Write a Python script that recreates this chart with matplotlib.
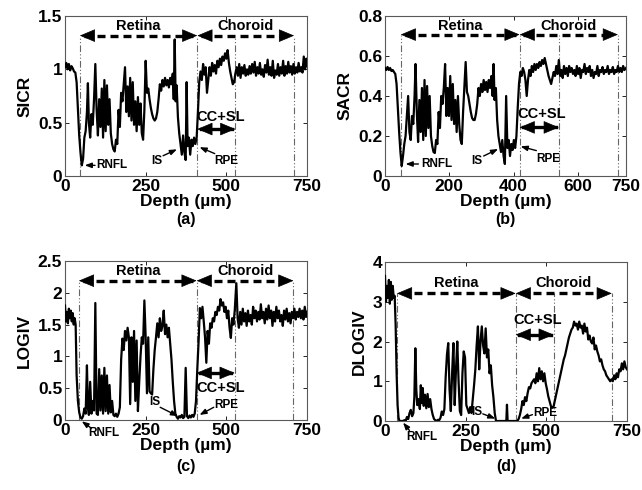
import matplotlib
matplotlib.use('Agg')
import matplotlib.pyplot as plt

plt.rcParams['font.family'] = ['Liberation Sans', 'DejaVu Sans']
plt.rcParams['font.weight'] = 'bold'

# ---------------- data ----------------
a_depth = [0,4,8,12,16,20,24,28,32,36,40,44,48,52,56,60,64,68,71,74,78,82,86,90,94,98,102,106,110,114,118,122,126,130,134,138,142,146,150,154,158,162,166,170,174,178,182,186,190,194,198,202,206,210,214,218,222,226,230,234,238,242,246,250,254,258,262,266,270,274,278,282,286,290,294,298,302,306,310,314,318,322,326,330,334,337,340,343,346,350,354,358,362,366,370,374,377,380,384,388,392,396,400,404,408,412,416,420,424,428,432,436,440,444,448,452,456,460,464,468,472,476,480,484,488,492,496,500,504,508,512,516,520,524,528,532,536,540,544,548,552,556,560,564,568,572,576,580,584,588,592,596,600,604,608,612,616,620,624,628,632,636,640,644,648,652,656,660,664,668,672,676,680,684,688,692,696,700,704,708,712,716,720,724,728,732,736,740,744,748,750]
a_sicr = [1.02,1.06,1.00,1.05,0.99,1.03,1.01,0.98,0.97,0.88,0.62,0.38,0.22,0.10,0.16,0.36,0.42,0.60,0.87,0.50,0.36,0.58,0.48,0.72,1.05,0.62,0.38,0.72,0.46,0.82,0.36,0.90,0.42,0.85,0.48,0.72,0.40,0.30,0.25,0.23,0.34,0.30,0.62,0.46,0.78,0.70,0.86,1.02,0.60,0.84,0.56,0.92,0.52,0.88,0.48,0.70,0.42,0.74,0.48,0.68,0.40,0.34,0.62,1.08,0.78,0.82,0.72,0.64,0.58,0.54,0.52,0.54,0.60,0.72,0.86,0.80,0.90,0.84,0.92,0.85,0.90,0.83,0.92,0.86,0.96,0.72,1.28,0.70,0.85,0.55,0.40,0.30,0.20,0.38,0.22,0.15,0.88,0.28,0.36,0.20,0.34,0.28,0.36,0.30,0.36,0.60,0.88,0.98,0.90,1.05,0.95,1.02,0.78,0.90,1.02,0.94,1.06,0.98,1.04,0.96,1.08,1.02,1.10,1.04,1.12,1.08,1.15,1.10,1.18,1.06,0.98,0.92,0.86,0.88,0.96,1.02,0.94,1.05,0.92,1.02,0.96,1.04,0.94,1.00,0.95,1.03,0.96,1.05,0.97,1.07,0.94,1.02,0.96,1.06,0.95,1.00,0.93,1.04,0.97,1.09,0.95,1.02,0.94,1.08,0.92,0.99,0.95,1.05,0.94,1.02,0.96,1.08,0.94,1.03,0.96,1.07,0.97,1.03,0.95,1.05,0.96,1.02,0.97,1.06,0.98,1.02,0.97,1.12,1.00,1.10,1.03]

b_depth = [0,4,8,12,16,20,24,28,32,36,40,44,48,52,56,60,64,68,72,76,80,84,88,92,95,99,103,107,111,115,119,123,127,131,135,139,143,147,151,155,159,163,167,171,175,179,183,187,191,195,199,203,207,211,215,219,223,227,231,235,239,243,247,251,255,259,263,267,271,275,279,283,287,291,295,299,303,307,311,315,319,323,327,331,335,338,341,345,349,353,357,361,365,369,373,377,381,385,389,393,397,401,405,409,413,417,421,425,429,433,437,441,445,449,453,457,461,465,469,473,477,481,485,489,493,497,501,505,509,513,517,521,525,529,533,537,541,545,549,553,557,561,565,569,573,577,581,585,589,593,597,601,605,609,613,617,621,625,629,633,637,641,645,649,653,657,661,665,669,673,677,681,685,689,693,697,701,705,709,713,717,721,725,729,733,737,741,745,750]
b_sacr = [0.54,0.53,0.545,0.53,0.54,0.525,0.53,0.52,0.51,0.46,0.34,0.22,0.12,0.05,0.10,0.16,0.20,0.30,0.40,0.22,0.18,0.30,0.26,0.40,0.56,0.32,0.17,0.38,0.22,0.44,0.18,0.48,0.20,0.45,0.24,0.40,0.20,0.15,0.12,0.115,0.18,0.16,0.32,0.24,0.40,0.36,0.44,0.56,0.30,0.44,0.30,0.50,0.28,0.46,0.26,0.38,0.22,0.40,0.26,0.18,0.16,0.32,0.44,0.57,0.42,0.40,0.36,0.32,0.29,0.28,0.28,0.31,0.36,0.44,0.40,0.46,0.42,0.48,0.43,0.47,0.42,0.48,0.44,0.50,0.40,0.56,0.38,0.44,0.28,0.20,0.16,0.12,0.18,0.10,0.06,0.40,0.14,0.18,0.10,0.16,0.13,0.18,0.14,0.20,0.34,0.46,0.52,0.50,0.54,0.52,0.48,0.40,0.48,0.53,0.50,0.55,0.52,0.56,0.53,0.56,0.54,0.57,0.55,0.58,0.56,0.59,0.56,0.53,0.50,0.48,0.46,0.49,0.52,0.50,0.55,0.51,0.58,0.50,0.53,0.49,0.55,0.51,0.54,0.50,0.55,0.52,0.54,0.51,0.53,0.50,0.55,0.51,0.54,0.49,0.53,0.52,0.56,0.51,0.54,0.52,0.55,0.50,0.53,0.49,0.52,0.51,0.55,0.50,0.53,0.52,0.545,0.51,0.53,0.52,0.55,0.51,0.53,0.52,0.545,0.51,0.53,0.52,0.55,0.52,0.54,0.52,0.55,0.53,0.54]

c_depth = [0,3,6,9,12,15,18,21,24,27,30,33,36,40,44,48,52,56,60,64,68,71,74,78,82,86,90,94,98,102,106,110,114,118,122,126,130,134,138,142,146,150,154,158,162,166,170,174,178,182,186,190,194,198,202,206,210,214,218,222,226,230,234,238,242,246,250,254,258,262,266,270,274,278,282,286,290,294,298,302,306,310,314,318,322,326,330,334,338,342,346,350,354,358,362,366,370,374,378,382,386,390,394,398,402,406,410,414,418,422,426,430,434,438,442,446,450,454,458,462,466,470,474,478,482,486,490,494,498,502,506,510,514,518,522,526,531,535,539,543,547,551,555,559,563,567,571,575,579,583,587,591,595,599,603,607,611,615,619,623,627,631,635,639,643,647,651,655,659,663,667,671,675,679,683,687,691,695,699,703,707,711,715,719,723,727,731,735,739,743,747,750]
c_logiv = [1.80,1.55,1.70,1.52,1.75,1.60,1.72,1.55,1.68,1.50,1.60,1.50,0.70,0.30,0.12,0.04,0.02,0.06,0.18,0.10,0.86,0.20,0.08,0.60,0.10,0.30,0.15,1.84,0.10,0.08,0.80,0.15,0.70,0.10,0.82,0.14,0.70,0.10,0.55,0.12,0.30,0.08,0.06,0.10,0.05,0.10,0.20,0.95,1.28,1.10,1.40,1.25,1.45,1.30,0.25,1.30,0.60,1.40,0.30,1.25,0.14,0.60,1.00,1.30,1.20,1.88,1.30,0.42,1.30,0.45,0.42,0.40,0.80,1.10,1.30,1.52,1.30,1.60,1.40,1.48,1.72,1.35,1.50,1.30,1.45,1.20,0.95,0.60,0.30,0.10,0.05,0.02,0.06,0.04,0.08,0.03,0.05,0.82,0.06,0.03,0.07,0.04,0.08,0.05,0.10,0.30,0.80,1.23,1.76,1.60,1.78,1.55,1.30,0.90,1.40,1.20,1.52,1.45,1.60,1.55,1.70,1.65,1.78,1.72,1.90,1.80,1.85,1.70,1.78,1.60,1.72,1.45,1.29,1.60,1.50,1.72,2.15,1.60,1.45,1.70,1.50,1.75,1.55,1.68,1.48,1.72,1.55,1.65,1.50,1.78,1.60,1.72,1.55,1.70,1.58,1.82,1.60,1.70,1.52,1.75,1.58,1.80,1.60,1.72,1.48,1.70,1.55,1.78,1.60,1.72,1.55,1.65,1.48,1.72,1.58,1.75,1.55,1.68,1.52,1.70,1.60,1.75,1.58,1.70,1.62,1.75,1.60,1.72,1.58,1.78,1.62,1.70]

d_depth = [0,3,6,9,12,15,18,21,24,27,30,33,36,39,42,45,50,55,60,64,68,72,76,80,84,88,91,94,97,100,104,108,111,114,117,120,124,128,132,136,140,144,148,152,156,160,164,168,172,176,180,184,188,192,196,200,204,208,212,216,220,224,228,232,236,240,244,248,252,256,260,264,268,272,276,280,284,288,292,296,300,304,308,312,316,320,324,328,332,336,340,344,350,360,370,376,378,380,390,400,410,414,418,422,426,430,434,438,442,446,450,454,458,462,466,470,474,478,482,486,490,494,498,502,506,510,514,518,522,526,530,534,538,542,546,550,554,558,562,566,570,574,578,582,586,590,594,598,602,606,610,614,618,622,626,630,634,638,642,646,650,654,658,662,666,670,674,678,682,686,690,694,698,702,706,710,714,718,722,726,730,734,738,742,746,750]
d_dlogiv = [3.65,3.00,3.40,3.10,3.55,2.95,3.50,3.05,3.40,3.10,3.15,2.40,1.20,0.40,0.08,0.0,0.0,0.0,0.02,0.0,0.10,0.05,0.20,0.28,0.12,0.20,0.60,1.83,0.80,0.40,0.55,0.30,0.90,0.45,0.83,0.38,0.66,0.32,0.68,0.35,0.55,0.30,0.15,0.05,0.02,0.0,0.03,0.02,0.08,0.24,0.15,0.30,1.10,1.67,1.96,0.80,0.25,1.20,1.96,0.40,1.30,2.00,1.00,0.25,0.15,1.20,1.75,1.60,0.40,0.30,0.20,0.35,0.20,0.55,0.90,1.30,1.90,2.38,1.30,2.00,2.38,1.90,1.70,2.33,1.60,1.80,1.20,1.40,0.90,0.60,0.20,0.0,0.0,0.0,0.0,0.0,0.41,0.0,0.0,0.0,0.0,0.05,0.15,0.30,0.50,0.40,0.60,0.50,0.70,0.85,0.82,0.95,1.00,1.05,0.95,1.20,1.00,1.33,1.05,1.25,1.00,1.20,0.95,0.80,0.62,0.50,0.38,0.33,0.35,0.50,0.65,0.80,0.95,1.10,1.25,1.40,1.55,1.65,1.80,1.95,2.10,2.20,2.30,2.35,2.50,2.40,2.45,2.30,2.50,2.35,2.40,2.20,2.45,2.25,2.35,2.05,2.15,2.00,1.95,2.10,1.80,1.90,1.75,1.65,1.50,1.55,1.40,1.30,1.25,1.15,1.10,1.05,1.00,1.05,1.00,1.15,1.05,1.20,1.10,1.30,1.25,1.45,1.30,1.50,1.35,1.30]

# layer boundaries (um): RNFL start, RPE, CC+SL end, choroid end
a_bounds = [46, 410, 528, 710]
b_bounds = [49, 419, 541, 725]
c_bounds = [43, 408, 526, 708]
d_bounds = [37, 405, 523, 703]

ylabels = ['SICR', 'SACR', 'LOGIV', 'DLOGIV']
panel_letters = ['(a)', '(b)', '(c)', '(d)']
xtick_ab = [[0, 250, 500, 750], [0, 200, 400, 600, 750], [0, 250, 500, 750], [0, 250, 500, 750]]
ytick_vals = [[0, 0.5, 1, 1.5], [0, 0.2, 0.4, 0.6, 0.8], [0, 0.5, 1, 1.5, 2, 2.5], [0, 1, 2, 3, 4]]
ytick_txt = [['0', '0.5', '1', '1.5'], ['0', '0.2', '0.4', '0.6', '0.8'],
             ['0', '0.5', '1', '1.5', '2', '2.5'], ['0', '1', '2', '3', '4']]

# ---------------- layout / annotation placement ----------------
W, H = 642, 490
rects = [(65, 176, 242, 160), (385, 176, 241, 160), (65, 420, 242, 159), (385, 421, 242, 159)]

ann = [
    dict(arrow_y=1.316, text_y=1.41, cc_y=0.44, cc_ty=0.55, cc_tx=483,
         rnfl=dict(t=(97, 0.10), tail=(93, 0.10), tip=(61, 0.10), ha='left'),
         IS=dict(t=(283, 0.14), tail=(304, 0.19), tip=(347, 0.25)),
         RPE=dict(t=(500, 0.14), tail=(464, 0.21), tip=(417, 0.27))),
    dict(arrow_y=0.707, text_y=0.752, cc_y=0.243, cc_ty=0.31, cc_tx=489,
         rnfl=dict(t=(112, 0.06), tail=(104, 0.06), tip=(64, 0.06), ha='left'),
         IS=dict(t=(287, 0.077), tail=(307, 0.10), tip=(352, 0.135)),
         RPE=dict(t=(507, 0.085), tail=(471, 0.127), tip=(422, 0.148))),
    dict(arrow_y=2.19, text_y=2.34, cc_y=0.74, cc_ty=0.50, cc_tx=481,
         rnfl=dict(t=(119, -0.21), tail=(82, -0.13), tip=(52, -0.02), ha='center'),
         IS=dict(t=(277, 0.28), tail=(295, 0.20), tip=(350, 0.06)),
         RPE=dict(t=(500, 0.24), tail=(461, 0.20), tip=(417, 0.08))),
    dict(arrow_y=3.21, text_y=3.46, cc_y=2.17, cc_ty=2.54, cc_tx=474,
         rnfl=dict(t=(114, -0.39), tail=(76, -0.24), tip=(56, -0.04), ha='center'),
         IS=dict(t=(284, 0.23), tail=(303, 0.18), tip=(342, 0.06)),
         RPE=dict(t=(496, 0.20), tail=(457, 0.16), tip=(422, 0.06))),
]
ylims = [(0, 1.5), (0, 0.8), (0, 2.5), (0, 4)]
series = [(a_depth, a_sicr), (b_depth, b_sacr), (c_depth, c_logiv), (d_depth, d_dlogiv)]
bounds_all = [a_bounds, b_bounds, c_bounds, d_bounds]

fig = plt.figure(figsize=(W / 100, H / 100), dpi=100)

big_head = '-|>,head_length=0.5,head_width=0.21'
small_head = '-|>,head_length=0.45,head_width=0.17'

for i in range(4):
    l, b, w, h = rects[i]
    ax = fig.add_axes([l / W, 1 - b / H, w / W, h / H])
    x, y = series[i]
    ax.plot(x, y, color='black', lw=1.6, zorder=3)
    ax.set_xlim(0, 750)
    ax.set_ylim(*ylims[i])
    ax.set_xticks(xtick_ab[i])
    ax.set_xticklabels([str(t) for t in xtick_ab[i]])
    ax.set_yticks(ytick_vals[i])
    ax.set_yticklabels(ytick_txt[i])
    ax.tick_params(direction='in', top=True, right=True, length=3, width=0.6,
                   labelsize=12.5, pad=2, colors='black')
    for lab in ax.get_xticklabels() + ax.get_yticklabels():
        lab.set_fontweight('bold')
    for sp in ax.spines.values():
        sp.set_color('0.35')
        sp.set_linewidth(0.8)
    ax.set_xlabel('Depth (\u00b5m)', fontsize=12.5, fontweight='bold', labelpad=0)
    ax.set_ylabel(ylabels[i], fontsize=12.5, fontweight='bold', labelpad=4)

    bd = bounds_all[i]
    A = ann[i]
    ay = A['arrow_y']
    for xb in bd:
        ax.plot([xb, xb], [0, ay], color='0.4', lw=0.8,
                linestyle=(0, (6, 2, 1, 2, 1, 2)), zorder=2)
    # Retina / Choroid dashed double arrows
    for (x1, x2) in [(bd[0], bd[1]), (bd[1], bd[3])]:
        ax.plot([x1 + 12, x2 - 12], [ay, ay], color='black', lw=2.4,
                dashes=(2.4, 1.5), solid_capstyle='butt', zorder=4)
        for tip, tail in [(x1, x1 + 40), (x2, x2 - 40)]:
            ax.annotate('', xy=(tip, ay), xytext=(tail, ay),
                        arrowprops=dict(arrowstyle=big_head, mutation_scale=20,
                                        lw=0.5, color='black', shrinkA=0, shrinkB=0),
                        zorder=5)
    ax.text((bd[0] + bd[1]) / 2, A['text_y'], 'Retina', ha='center', va='center',
            fontsize=10.5, fontweight='bold')
    ax.text((bd[1] + bd[3]) / 2, A['text_y'], 'Choroid', ha='center', va='center',
            fontsize=10.5, fontweight='bold')
    # CC+SL solid double arrow
    cy = A['cc_y']
    ax.plot([bd[1] + 10, bd[2] - 10], [cy, cy], color='black', lw=2.4, zorder=4)
    for tip, tail in [(bd[1], bd[1] + 35), (bd[2], bd[2] - 35)]:
        ax.annotate('', xy=(tip, cy), xytext=(tail, cy),
                    arrowprops=dict(arrowstyle=big_head, mutation_scale=20,
                                    lw=0.5, color='black', shrinkA=0, shrinkB=0),
                    zorder=5)
    ax.text(A['cc_tx'], A['cc_ty'], 'CC+SL', ha='center', va='center',
            fontsize=10.5, fontweight='bold')
    # layer labels with small arrows
    for key, name in [('rnfl', 'RNFL'), ('IS', 'IS'), ('RPE', 'RPE')]:
        d = A[key]
        ax.annotate('', xy=d['tip'], xytext=d['tail'],
                    arrowprops=dict(arrowstyle=small_head, mutation_scale=9,
                                    lw=1.0, color='black', shrinkA=0, shrinkB=0),
                    annotation_clip=False, zorder=5)
        ax.text(d['t'][0], d['t'][1], name, ha=d.get('ha', 'center'), va='center',
                fontsize=8.5, fontweight='bold', clip_on=False)

    # panel letter
    cx = (l + w / 2) / W
    ly = 219 if i < 2 else 466
    fig.text(cx, 1 - ly / H, panel_letters[i], ha='center', va='center',
             fontsize=11.5, fontweight='bold')

fig.savefig('out.png', dpi=100)
